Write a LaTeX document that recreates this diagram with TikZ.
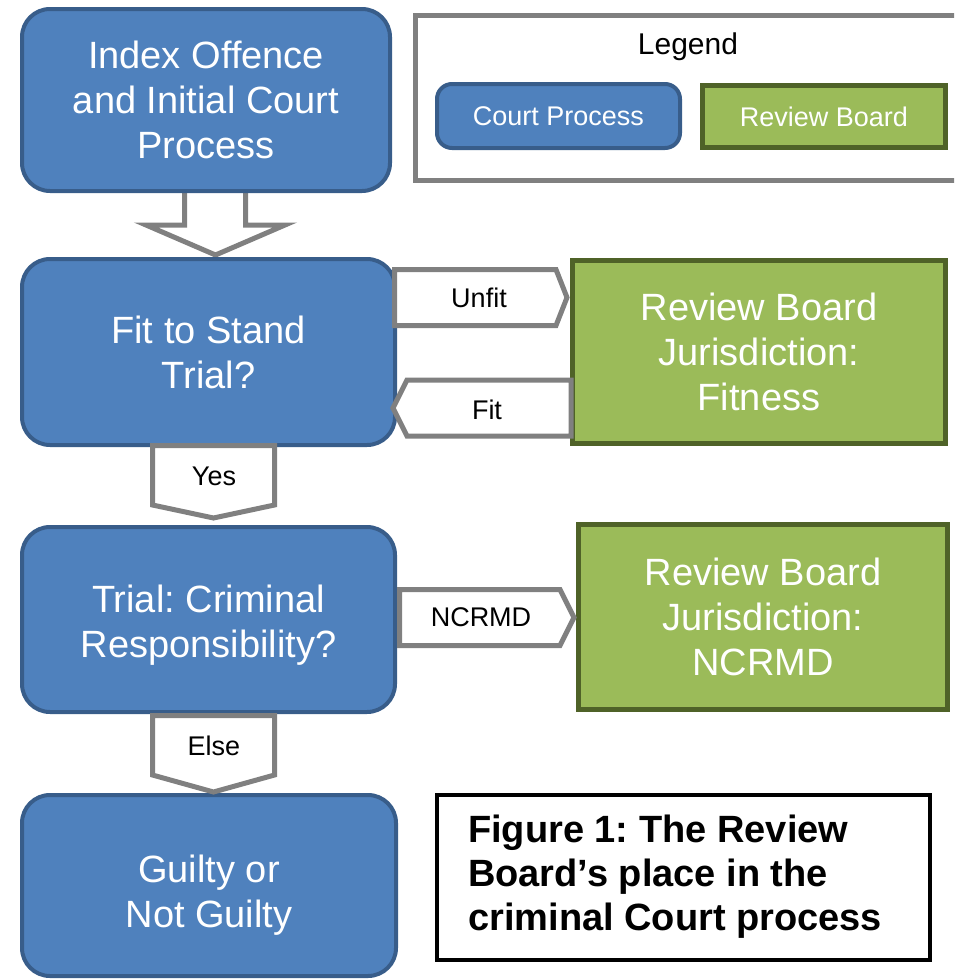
\documentclass[tikz,border=0pt]{standalone}
\usepackage{fontspec}
\setmainfont{Liberation Sans}
\frenchspacing
\definecolor{blueF}{HTML}{4F81BD}
\definecolor{blueD}{HTML}{385D8A}
\definecolor{greenF}{HTML}{9BBB59}
\definecolor{greenD}{HTML}{4F6228}
\definecolor{arrG}{HTML}{808080}
\begin{document}
\begin{tikzpicture}[x=1pt,y=-1pt,
  court/.style={draw=blueD, fill=blueF, line width=4pt, rounded corners=28pt, text=white, align=center, font=\fontsize{38}{45}\selectfont, inner sep=0pt},
  board/.style={draw=greenD, fill=greenF, line width=5pt, text=white, align=center, font=\fontsize{38}{45}\selectfont, inner sep=0pt},
  garrow/.style={draw=arrG, fill=white, line width=5pt, line join=miter},
  albl/.style={font=\fontsize{27}{32}\selectfont, text=black, inner sep=0pt}]
\useasboundingbox (0,0) rectangle (954,980);
\clip (0,0) rectangle (954,980);
% down block arrow (behind box 1)
\draw[garrow] (184.5,185) -- (184.5,225) -- (146,225) -- (215.5,255) -- (285,225) -- (245.5,225) -- (245.5,185) -- cycle;
% court boxes
\node[court, minimum width=368pt, minimum height=182pt] (b1) at (206,100) {Index Offence\\and Initial Court\\Process};
\node[court, minimum width=373pt, minimum height=186pt] (b2) at (208.5,352) {Fit to Stand\\Trial?};
\node[court, minimum width=373pt, minimum height=185pt] (b3) at (208.5,619.5) {\rule{0pt}{38pt}Trial: Criminal\\Responsibility?};
\node[court, minimum width=374pt, minimum height=181pt] (b4) at (209,885.5) {\rule{0pt}{46pt}Guilty or\\Not Guilty};
% review board boxes
\node[board, minimum width=373pt, minimum height=183pt] (g1) at (759,352) {Review Board\\Jurisdiction:\\Fitness};
\node[board, minimum width=369pt, minimum height=185pt] (g2) at (763,617) {Review Board\\Jurisdiction:\\NCRMD};
% labelled block arrows
\draw[garrow] (394.5,269.5) -- (556,269.5) -- (567,297.5) -- (556,325.5) -- (394.5,325.5) -- cycle;
\draw[garrow] (571,380) -- (407,380) -- (393,408) -- (407,436) -- (571,436) -- cycle;
\draw[garrow] (399.5,589.5) -- (560,589.5) -- (574,617.5) -- (560,645.5) -- (399.5,645.5) -- cycle;
\draw[garrow] (152.5,445.5) -- (274.5,445.5) -- (274.5,505) -- (213.5,518) -- (152.5,505) -- cycle;
\draw[garrow] (152.5,715.5) -- (274.5,715.5) -- (274.5,775) -- (213.5,792) -- (152.5,775) -- cycle;
\node[albl] (lunfit) at (479,298) {Unfit};
\node[albl] (lfit) at (487,410) {Fit};
\node[albl] (lncrmd) at (481,617) {NCRMD};
\node[albl] (lyes) at (214,476) {Yes};
\node[albl] (lelse) at (214,746) {Else};
% legend
\node[draw=arrG, line width=5pt, minimum width=600pt, minimum height=165pt, anchor=north west] (leg) at (412.5,12.5) {};
\node[font=\fontsize{30}{36}\selectfont, inner sep=0pt] (legt) at (688,47) {Legend};
\node[court, rounded corners=15pt, minimum width=243pt, minimum height=64pt, font=\fontsize{27}{32}\selectfont] (lc) at (558.5,116) {Court Process};
\node[board, minimum width=243pt, minimum height=62pt, font=\fontsize{27}{32}\selectfont] (lr) at (824,116.5) {Review Board};
% caption
\node[draw=black, line width=4.5pt, minimum width=493pt, minimum height=165pt] (cap) at (683.5,877.5) {};
\node[anchor=west, align=left, inner sep=0pt, font=\bfseries\fontsize{38}{44}\selectfont] (capt) at (468,877) {Figure 1: The Review\\Board’s place in the\\criminal Court process};
\end{tikzpicture}
\end{document}
